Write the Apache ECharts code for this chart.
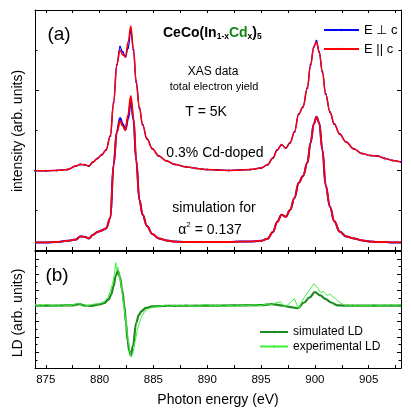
<!DOCTYPE html>
<html><head><meta charset="utf-8">
<script src="https://cdn.jsdelivr.net/npm/echarts@6/dist/echarts.min.js"></script>
<style>html,body{margin:0;padding:0;background:#fff}#c{width:411px;height:419px}</style>
</head><body><div id="c"></div>
<script>
// ---- data ----
const energy = [874, 875, 876, 877, 877.8, 878.2, 878.6, 879.0, 879.4, 879.8, 880.2, 880.6, 881.0, 881.3, 881.6, 881.9, 882.15, 882.4, 882.65, 882.9, 883.15, 883.4, 883.7, 884.0, 884.4, 884.9, 885.5, 886.2, 887, 888, 889, 890, 891, 892, 893, 894, 895, 895.6, 896.1, 896.5, 896.9, 897.3, 897.7, 898.1, 898.5, 898.9, 899.3, 899.6, 899.9, 900.15, 900.4, 900.7, 901.0, 901.4, 901.8, 902.3, 902.9, 903.6, 904.4, 905.2, 905.8, 906.5, 907.2, 908];
const expPerp = [1.98,1.98,1.99,2.01,2.10,2.14,2.13,2.10,2.20,2.29, 2.38,2.50,2.85,3.68,4.63,5.08,4.95,4.83,5.05,5.48, 5.00,4.20,3.55,3.13,2.78,2.53,2.35,2.23,2.14,2.08, 2.04,2.01,2.00,1.99,2.00,2.01,2.05,2.13,2.30,2.50, 2.63,2.55,2.68,2.95,3.40,3.58,4.05,4.63,5.08,5.23, 4.95,4.45,3.90,3.45,3.15,2.90,2.70,2.53,2.41,2.36, 2.35,2.29,2.24,2.20];
const expPar = [1.98,1.98,1.99,2.01,2.10,2.14,2.13,2.10,2.20,2.29, 2.38,2.50,2.85,3.68,4.63,5.00,4.88,4.83,5.20,5.60, 5.00,4.20,3.55,3.13,2.78,2.53,2.35,2.23,2.14,2.08, 2.04,2.01,2.00,1.99,2.00,2.01,2.05,2.13,2.30,2.50, 2.63,2.55,2.68,2.95,3.40,3.58,4.05,4.63,5.08,5.20, 4.95,4.45,3.90,3.45,3.15,2.90,2.70,2.53,2.41,2.36, 2.35,2.29,2.24,2.20];
const simPerp = [0.19,0.19,0.20,0.23,0.26,0.34,0.33,0.29,0.38,0.45, 0.49,0.54,0.80,2.13,2.95,3.30,3.15,3.00,3.28,3.73, 3.25,2.25,1.25,0.88,0.60,0.40,0.29,0.24,0.21,0.20, 0.20,0.20,0.20,0.20,0.21,0.21,0.23,0.28,0.45,0.70, 0.88,0.83,1.00,1.30,1.68,1.85,2.18,2.68,3.15,3.33, 3.18,2.50,1.62,1.08,0.72,0.46,0.34,0.29,0.24,0.21, 0.20,0.20,0.19,0.19];
const simPar = [0.19,0.19,0.20,0.23,0.26,0.34,0.33,0.29,0.38,0.45, 0.49,0.54,0.80,2.13,2.95,3.23,3.10,3.00,3.38,3.85, 3.30,2.25,1.25,0.88,0.60,0.40,0.29,0.24,0.21,0.20, 0.20,0.20,0.20,0.20,0.21,0.21,0.23,0.28,0.45,0.70, 0.88,0.83,1.00,1.30,1.68,1.85,2.18,2.68,3.15,3.33, 3.18,2.50,1.62,1.08,0.72,0.46,0.34,0.29,0.24,0.21, 0.20,0.20,0.19,0.19];

const ldSimEnergy = [874,876,877.5,878.1,878.6,879.2,880.0,880.4,880.85,881.1, 881.3,881.5,881.7,881.9,882.1,882.3,882.45,882.6,882.75,882.9, 883.1,883.4,883.65,883.9,884.3,884.9,886,890,895,896, 896.8,897.6,898.4,899.0,899.5,900.0,900.5,901.0,901.5,902.1, 902.6,905,908];
const ldSim = [0,0,0.02,0.1,0.0,-0.02,0.08,0.15,0.4,0.75, 1.25,1.9,2.23,1.8,1.0,0,-1.1,-2.2,-2.9,-3.18, -2.6,-1.1,-0.6,-0.35,-0.15,-0.05,-0.02,0,0.03,0.1, 0.02,-0.08,-0.17,0.2,0.52,0.86,0.65,0.42,0.2,0.02, 0,0,0];
const ldExpEnergy = [874,874.5,875,875.5,876,876.5,877,877.5,878,878.5, 879,879.5,880,880.5,880.8,881.0,881.2,881.35,881.5,881.6, 881.7,881.85,882.0,882.2,882.4,882.6,882.8,882.95,883.1,883.3, 883.5,883.7,883.9,884.2,884.5,885,885.5,886,886.5,887, 887.5,888,888.5,889,889.5,890,890.5,891,891.5,892, 892.5,893,893.5,894,894.5,895,895.5,896,896.5,896.8, 897.1,897.5,897.8,898.1,898.3,898.5,898.8,899.1,899.4,899.7, 899.9,900.1,900.3,900.5,900.8,901.0,901.2,901.4,901.6,901.9, 902.2,902.6,903,903.5,904,904.5,905,905.5,906,906.5, 907,907.5,908];
const ldExp = [0.05,-0.05,0.08,0.02,-0.04,0.06,0.0,0.05,0.15,-0.05, 0.02,0.1,0.12,0.3,0.55,0.9,1.4,1.9,2.75,2.3, 2.45,1.9,1.3,0.3,-0.8,-1.9,-2.9,-3.3,-3.05,-2.3, -1.6,-1.1,-0.7,-0.37,-0.2,-0.1,-0.05,0.02,-0.06,0.03, -0.04,0.05,0.0,-0.05,0.04,0.06,-0.03,0.03,-0.05,0.02, -0.04,0.04,-0.02,0.02,0.05,0.0,0.1,0.08,0.2,0.25, -0.05,0.05,0.25,0.45,0.1,-0.2,0.3,0.6,0.9,1.2, 1.4,1.25,1.1,0.85,0.9,0.75,0.65,0.75,0.6,0.45, 0.25,0.1,-0.05,0.04,-0.03,0.02,-0.02,0.06,0.0,-0.03, 0.05,0.02,0.06];

const xTickLabels = [875, 880, 885, 890, 895, 900, 905];
const xTickMarks = [875, 877.5, 880, 882.5, 885, 887.5, 890, 892.5, 895, 897.5, 900, 902.5, 905, 907.5];
const seriesNames = ['E \u22a5 c', 'E || c', 'simulated LD', 'experimental LD'];

const zip = (xs, ys) => xs.map((x, i) => [x, ys[i]]);
const FONT = 'Liberation Sans, Arial, Helvetica, sans-serif';

function xAx(grid, pos, labels) {
  return {
    type: 'value', gridIndex: grid, position: pos, min: 874, max: 908,
    axisLine: { show: true, onZero: false, lineStyle: { color: '#000', width: 1 } },
    axisTick: { show: true, inside: true, length: 3, customValues: xTickMarks, lineStyle: { color: '#000' } },
    axisLabel: { show: labels, customValues: xTickLabels, color: '#000', fontSize: 11.5, fontFamily: FONT, margin: 6 },
    splitLine: { show: false }
  };
}
function yAx(grid, pos, min, max, interval) {
  return {
    type: 'value', gridIndex: grid, position: pos, min: min, max: max, interval: interval,
    axisLine: { show: true, onZero: false, lineStyle: { color: '#000', width: 1 } },
    axisTick: { show: true, inside: true, length: 4, lineStyle: { color: '#000' } },
    minorTick: { show: true, splitNumber: 2, length: 2.5, lineStyle: { color: '#000' } },
    axisLabel: { show: false },
    splitLine: { show: false }
  };
}

const chart = echarts.init(document.getElementById('c'), null, { renderer: 'canvas' });
chart.setOption({
  animation: false,
  backgroundColor: '#fff',
  textStyle: { fontFamily: FONT },
  grid: [
    { left: 35, right: 10, top: 10, height: 240 },
    { left: 35, right: 10, top: 251, height: 117 }
  ],
  xAxis: [xAx(0, 'bottom', false), xAx(0, 'top', false), xAx(1, 'bottom', true), xAx(1, 'top', false)],
  yAxis: [yAx(0, 'left', 0, 6, 2), yAx(0, 'right', 0, 6, 2), yAx(1, 'left', -4, 3.5, 1), yAx(1, 'right', -4, 3.5, 1)],
  legend: [
    { data: [seriesNames[0], seriesNames[1]], orient: 'vertical', left: 323, top: 23, padding: 0,
      itemWidth: 35, itemHeight: 3, itemGap: 5,
      textStyle: { fontSize: 13, lineHeight: 14, color: '#000', fontFamily: FONT } },
    { data: [seriesNames[2], seriesNames[3]], orient: 'vertical', left: 259, top: 325, padding: 0,
      itemWidth: 28, itemHeight: 3, itemGap: 0.5,
      textStyle: { fontSize: 12, lineHeight: 14, color: '#000', fontFamily: FONT } }
  ],
  series: [
    { name: seriesNames[0], type: 'line', xAxisIndex: 0, yAxisIndex: 0, data: zip(energy, expPerp),
      smooth: 0.4, smoothMonotone: 'x', symbol: 'circle', symbolSize: 2, showSymbol: true,
      itemStyle: { color: '#0000ff' }, lineStyle: { color: '#0000ff', width: 1.3 }, z: 2 },
    { name: seriesNames[0], type: 'line', xAxisIndex: 0, yAxisIndex: 0, data: zip(energy, simPerp),
      smooth: 0.4, smoothMonotone: 'x', symbol: 'none',
      itemStyle: { color: '#0000ff' }, lineStyle: { color: '#0000ff', width: 2 }, z: 2 },
    { name: seriesNames[1], type: 'line', xAxisIndex: 0, yAxisIndex: 0, data: zip(energy, expPar),
      smooth: 0.4, smoothMonotone: 'x', symbol: 'circle', symbolSize: 1.5, showSymbol: false,
      itemStyle: { color: '#ff0000' }, lineStyle: { color: '#ff0000', width: 1.5 }, z: 3 },
    { name: seriesNames[1], type: 'line', xAxisIndex: 0, yAxisIndex: 0, data: zip(energy, simPar),
      smooth: 0.4, smoothMonotone: 'x', symbol: 'none',
      itemStyle: { color: '#ff0000' }, lineStyle: { color: '#ff0000', width: 1.8 }, z: 3 },
    { name: seriesNames[2], type: 'line', xAxisIndex: 2, yAxisIndex: 2, data: zip(ldSimEnergy, ldSim),
      smooth: 0.4, smoothMonotone: 'x', symbol: 'none',
      itemStyle: { color: '#1f8a1f' }, lineStyle: { color: '#1f8a1f', width: 2.2 }, z: 2 },
    { name: seriesNames[3], type: 'line', xAxisIndex: 2, yAxisIndex: 2, data: zip(ldExpEnergy, ldExp),
      smooth: false, symbol: 'circle', symbolSize: 1.5, showSymbol: false,
      itemStyle: { color: '#3cf03c' }, lineStyle: { color: '#3cf03c', width: 1 }, z: 3 }
  ],
  graphic: [
    { type: 'text', x: 59, y: 35, style: { text: '(a)', font: '19px ' + FONT, fill: '#000', textAlign: 'center', textVerticalAlign: 'middle' } },
    { type: 'text', x: 57, y: 276, style: { text: '(b)', font: '19px ' + FONT, fill: '#000', textAlign: 'center', textVerticalAlign: 'middle' } },
    { type: 'text', x: 163, y: 25, style: {
        text: '{b|CeCo(In}{s|1-x}{g|Cd}{s|x}{b|)}{s|5}',
        rich: {
          b: { fontSize: 14, fontWeight: 'bold', fontFamily: FONT, fill: '#000', lineHeight: 16, verticalAlign: 'middle' },
          g: { fontSize: 14, fontWeight: 'bold', fontFamily: FONT, fill: '#138a13', lineHeight: 16, verticalAlign: 'middle' },
          s: { fontSize: 8.5, fontWeight: 'bold', fontFamily: FONT, fill: '#000', lineHeight: 9, verticalAlign: 'bottom' }
        } } },
    { type: 'text', x: 213, y: 72, style: { text: 'XAS data', font: '12px ' + FONT, fill: '#000', textAlign: 'center', textVerticalAlign: 'middle' } },
    { type: 'text', x: 214, y: 87, style: { text: 'total electron yield', font: '11px ' + FONT, fill: '#000', textAlign: 'center', textVerticalAlign: 'middle' } },
    { type: 'text', x: 206, y: 112, style: { text: 'T = 5K', font: '14px ' + FONT, fill: '#000', textAlign: 'center', textVerticalAlign: 'middle' } },
    { type: 'text', x: 215, y: 153, style: { text: '0.3% Cd-doped', font: '14px ' + FONT, fill: '#000', textAlign: 'center', textVerticalAlign: 'middle' } },
    { type: 'text', x: 214, y: 208, style: { text: 'simulation for', font: '14px ' + FONT, fill: '#000', textAlign: 'center', textVerticalAlign: 'middle' } },
    { type: 'text', x: 210, y: 221, style: {
        text: '{n|\u03b1}{p|2}{n| = 0.137}', textAlign: 'center',
        rich: {
          n: { fontSize: 14, fontFamily: FONT, fill: '#000', lineHeight: 16, verticalAlign: 'bottom' },
          p: { fontSize: 8, fontFamily: FONT, fill: '#000', lineHeight: 16, verticalAlign: 'top' }
        } } },
    { type: 'text', x: 18, y: 131, rotation: Math.PI / 2, style: { text: 'intensity (arb. units)', font: '14px ' + FONT, fill: '#000', textAlign: 'center', textVerticalAlign: 'middle' } },
    { type: 'text', x: 18, y: 313, rotation: Math.PI / 2, style: { text: 'LD (arb. units)', font: '14px ' + FONT, fill: '#000', textAlign: 'center', textVerticalAlign: 'middle' } },
    { type: 'text', x: 218, y: 400, style: { text: 'Photon energy (eV)', font: '14px ' + FONT, fill: '#000', textAlign: 'center', textVerticalAlign: 'middle' } }
  ]
});
</script></body></html>
